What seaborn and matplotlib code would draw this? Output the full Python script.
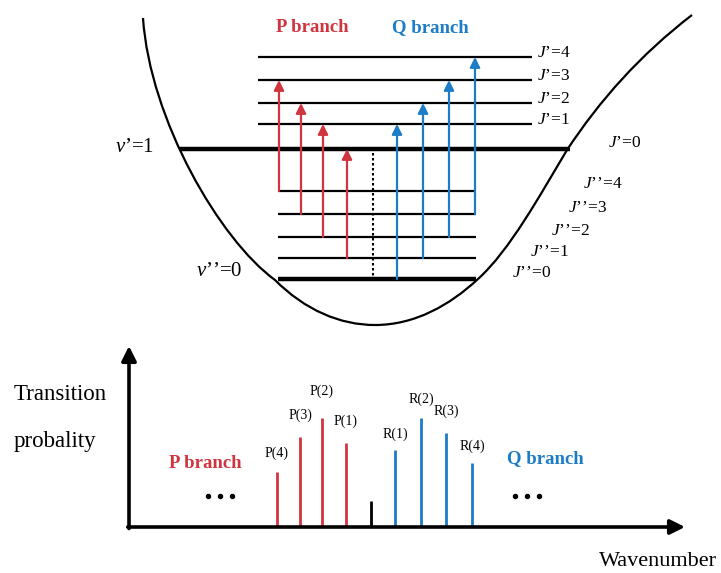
import numpy as np
import matplotlib
matplotlib.use("Agg")
import matplotlib.pyplot as plt
import seaborn as sns
from matplotlib.path import Path
from matplotlib.patches import PathPatch

sns.set_theme(style="white")
plt.rcParams['font.family'] = ['Liberation Serif', 'DejaVu Serif']
plt.rcParams['text.color'] = 'black'
plt.rcParams['mathtext.fontset'] = 'custom'
plt.rcParams['mathtext.rm'] = 'Liberation Serif'
plt.rcParams['mathtext.it'] = 'Liberation Serif:italic'

RED = "#d0353f"
BLUE = "#1c7cc6"

# --- energy level diagram (pixel units, y down) ---
upper_J = [0, 1, 2, 3, 4]
upper_y = [149, 124, 103, 80, 57]       # v'=1 manifold
lower_J = [0, 1, 2, 3, 4]
lower_y = [279, 258, 237, 214, 191]     # v''=0 manifold

# potential curve as cubic bezier control points
curve_pts = [(143, 18),
             (150, 120), (220, 240), (275, 280),
             (305, 310), (340, 325), (375, 325),
             (415, 325), (450, 305), (478, 279),
             (510, 250), (540, 195), (567, 150),
             (600, 100), (640, 55), (692, 15)]

# transitions: (x, lower J'', upper J')
p_x = [279, 301, 323, 347]
p_from = [4, 3, 2, 1]
p_to = [3, 2, 1, 0]
q_x = [397, 423, 449, 475]
q_from = [0, 1, 2, 3]
q_to = [1, 2, 3, 4]

# --- stick spectrum ---
stick_x = [277, 300, 322, 346, 371, 395, 421, 446, 472]
stick_h = [55, 90, 109, 84, 26, 77, 109, 94, 64]
stick_c = [RED] * 4 + ["black"] + [BLUE] * 4
stick_lab = ["P(4)", "P(3)", "P(2)", "P(1)", "", "R(1)", "R(2)", "R(3)", "R(4)"]
lab_y = [453, 415, 391, 421, None, 434, 399, 411, 446]
base_y = 527
dots_x = [208, 220, 232, 515, 527, 539]

fig = plt.figure(figsize=(7.21, 5.73), dpi=100)
ax = fig.add_axes([0, 0, 1, 1])
ax.set_xlim(0, 721)
ax.set_ylim(573, 0)
ax.axis('off')

codes = [Path.MOVETO] + [Path.CURVE4] * (len(curve_pts) - 1)
ax.add_patch(PathPatch(Path(curve_pts, codes), fill=False, lw=1.6, ec="black"))

for J, y in zip(upper_J, upper_y):
    if J == 0:
        ax.plot([180, 570], [y, y], color="black", lw=3.2, solid_capstyle='butt')
    else:
        ax.plot([258, 532], [y, y], color="black", lw=1.6, solid_capstyle='butt')
        ax.text(537, y - 4, r"$J$’=%d" % J, fontsize=12.5, ha='left', va='center')
ax.text(625, 143, r"$J$’=0", fontsize=12.5, ha='center', va='center')

lower_lab_pos = [(532, 273), (549, 252), (570, 231), (587, 208), (603, 184)]
for J, y in zip(lower_J, lower_y):
    lw = 3.2 if J == 0 else 1.6
    ax.plot([278, 476], [y, y], color="black", lw=lw, solid_capstyle='butt')
    lx, ly = lower_lab_pos[J]
    ax.text(lx, ly, r"$J$’’=%d" % J, fontsize=12.5, ha='center', va='center')

ax.text(135, 147, r"$v$’=1", fontsize=15, ha='center', va='center')
ax.text(219, 271, r"$v$’’=0", fontsize=15, ha='center', va='center')

def arrow(x, y0, y1, c):
    ax.annotate("", xy=(x, y1), xytext=(x, y0),
                arrowprops=dict(arrowstyle='-|>', color=c, lw=1.6,
                                mutation_scale=15, shrinkA=0, shrinkB=0))

for x, a, b in zip(p_x, p_from, p_to):
    arrow(x, lower_y[a], upper_y[b], RED)
for x, a, b in zip(q_x, q_from, q_to):
    arrow(x, lower_y[a], upper_y[b], BLUE)

ax.plot([373, 373], [153, 277], color="black", lw=1.5, ls=(0, (1.2, 1.2)))

ax.text(312, 28, "P branch", fontsize=13.5, fontweight='bold', color=RED, ha='center', va='center')
ax.text(430, 28, "Q branch", fontsize=13.5, fontweight='bold', color=BLUE, ha='center', va='center')

# --- spectrum axes ---
ax.annotate("", xy=(129, 346), xytext=(129, base_y + 1.5),
            arrowprops=dict(arrowstyle='-|>', color='black', lw=2.6,
                            mutation_scale=22, shrinkA=0, shrinkB=0))
ax.annotate("", xy=(685, base_y), xytext=(127.7, base_y),
            arrowprops=dict(arrowstyle='-|>', color='black', lw=2.6,
                            mutation_scale=22, shrinkA=0, shrinkB=0))

for x, h, c, lab, ly in zip(stick_x, stick_h, stick_c, stick_lab, lab_y):
    ax.plot([x, x], [base_y, base_y - h], color=c, lw=2, solid_capstyle='butt')
    if lab:
        ax.text(x, ly, lab, fontsize=10, ha='center', va='center')

ax.plot(dots_x, [496] * len(dots_x), 'o', ms=2.9, color='black', ls='none')

ax.text(205, 464, "P branch", fontsize=13.5, fontweight='bold', color=RED, ha='center', va='center')
ax.text(545, 459, "Q branch", fontsize=13.5, fontweight='bold', color=BLUE, ha='center', va='center')
ax.text(60, 394, "Transition", fontsize=16.5, ha='center', va='center')
ax.text(55, 441, "probality", fontsize=16.5, ha='center', va='center')
ax.text(658, 562, "Wavenumber", fontsize=16, ha='center', va='center')

fig.savefig("out.png", dpi=100)
